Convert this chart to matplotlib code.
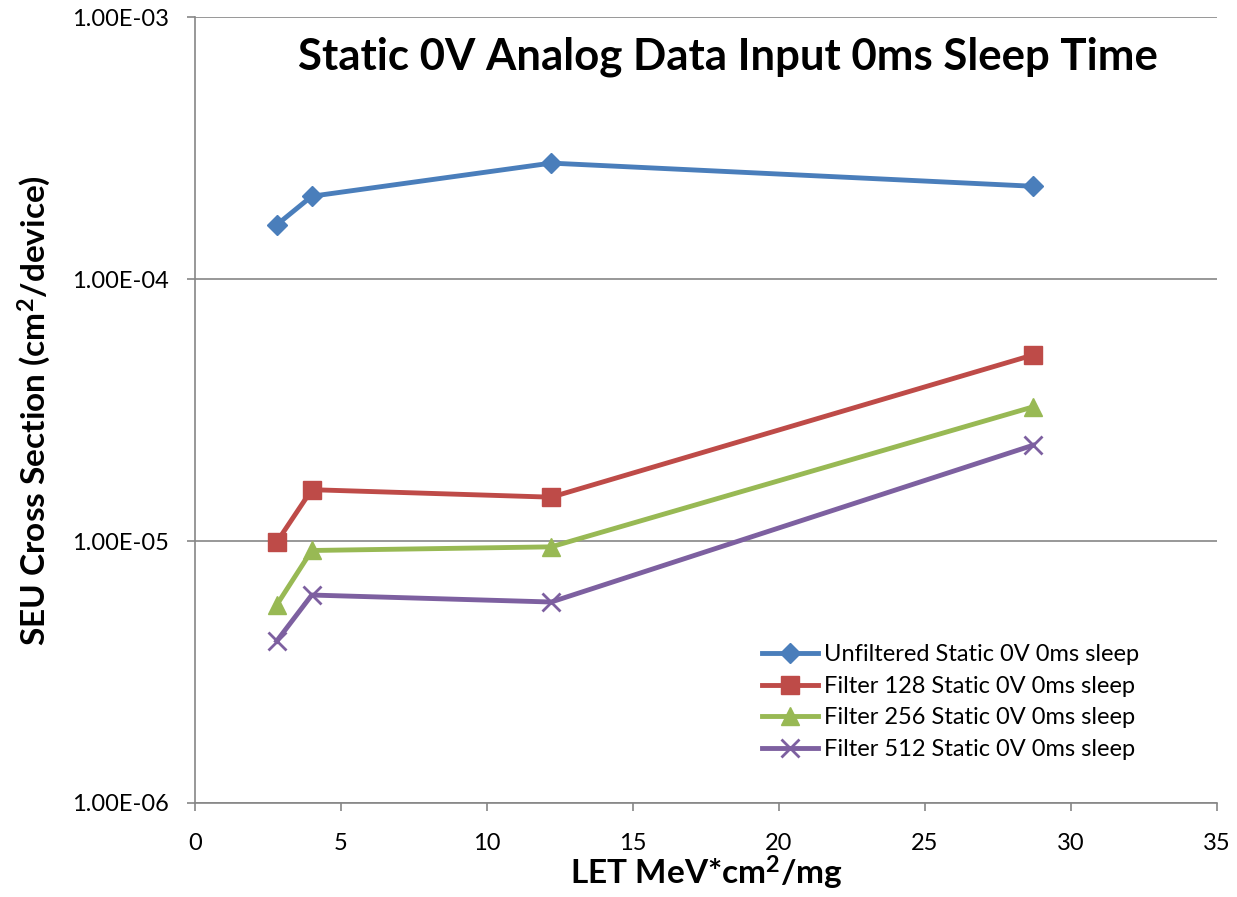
import matplotlib
matplotlib.use("Agg")
import matplotlib.pyplot as plt
from matplotlib.ticker import FixedLocator, FixedFormatter, NullLocator

plt.rcParams['font.family'] = ['Lato', 'DejaVu Sans']
plt.rcParams['mathtext.default'] = 'regular'

let = [2.8, 4.0, 12.2, 28.7]
unfiltered = [1.61e-4, 2.07e-4, 2.77e-4, 2.26e-4]
filt128 = [9.9e-6, 1.57e-5, 1.47e-5, 5.13e-5]
filt256 = [5.7e-6, 9.2e-6, 9.5e-6, 3.25e-5]
filt512 = [4.15e-6, 6.22e-6, 5.85e-6, 2.32e-5]
labels = ["Unfiltered Static 0V 0ms sleep", "Filter 128 Static 0V 0ms sleep",
          "Filter 256 Static 0V 0ms sleep", "Filter 512 Static 0V 0ms sleep"]
yticks = [1e-6, 1e-5, 1e-4, 1e-3]
ytick_labels = ["1.00E-06", "1.00E-05", "1.00E-04", "1.00E-03"]
xticks = [0, 5, 10, 15, 20, 25, 30, 35]

fig = plt.figure(figsize=(12.37, 8.97), dpi=100)
ax = fig.add_axes([0.1576, 0.1048, 0.8262, 0.8762])

ax.plot(let, unfiltered, color='#4A7EBB', lw=3.5, marker='D', ms=10, label=labels[0])
ax.plot(let, filt128, color='#BE4B48', lw=3.5, marker='s', ms=13, label=labels[1])
ax.plot(let, filt256, color='#98B954', lw=3.5, marker='^', ms=13, label=labels[2])
ax.plot(let, filt512, color='#7D60A0', lw=3.5, marker='x', ms=13, mew=2, label=labels[3])

ax.set_yscale('log')
ax.set_ylim(1e-6, 1e-3)
ax.set_xlim(0, 35)
ax.yaxis.set_major_locator(FixedLocator(yticks))
ax.yaxis.set_major_formatter(FixedFormatter(ytick_labels))
ax.yaxis.set_minor_locator(NullLocator())
ax.set_xticks(xticks)
ax.grid(axis='y', color='#868686', lw=1.2)
ax.set_axisbelow(True)
for s in ['top', 'right']:
    ax.spines[s].set_visible(False)
for s in ['left', 'bottom']:
    ax.spines[s].set_color('#868686')
    ax.spines[s].set_linewidth(1.2)
ax.tick_params(axis='both', labelsize=17, color='#868686', length=5.5, width=1.2, direction='out')
ax.tick_params(axis='y', pad=13)
ax.tick_params(axis='x', pad=16)

ax.set_xlabel(r'LET MeV*cm$^2$/mg', fontsize=24, fontweight='bold', labelpad=0)
ax.set_ylabel(r'SEU Cross Section (cm$^2$/device)', fontsize=24, fontweight='bold', labelpad=14)

ax.text(0.5215, 0.95, 'Static 0V Analog Data Input 0ms Sleep Time', transform=ax.transAxes,
        ha='center', va='center', fontsize=31.5, fontweight='bold')

ax.legend(loc='upper left', bbox_to_anchor=(0.555, 0.202), frameon=False, fontsize=17,
          handlelength=2.35, labelspacing=0.45, handletextpad=0.25, borderaxespad=0, borderpad=0)

fig.savefig('out.png', dpi=100, facecolor='white')
